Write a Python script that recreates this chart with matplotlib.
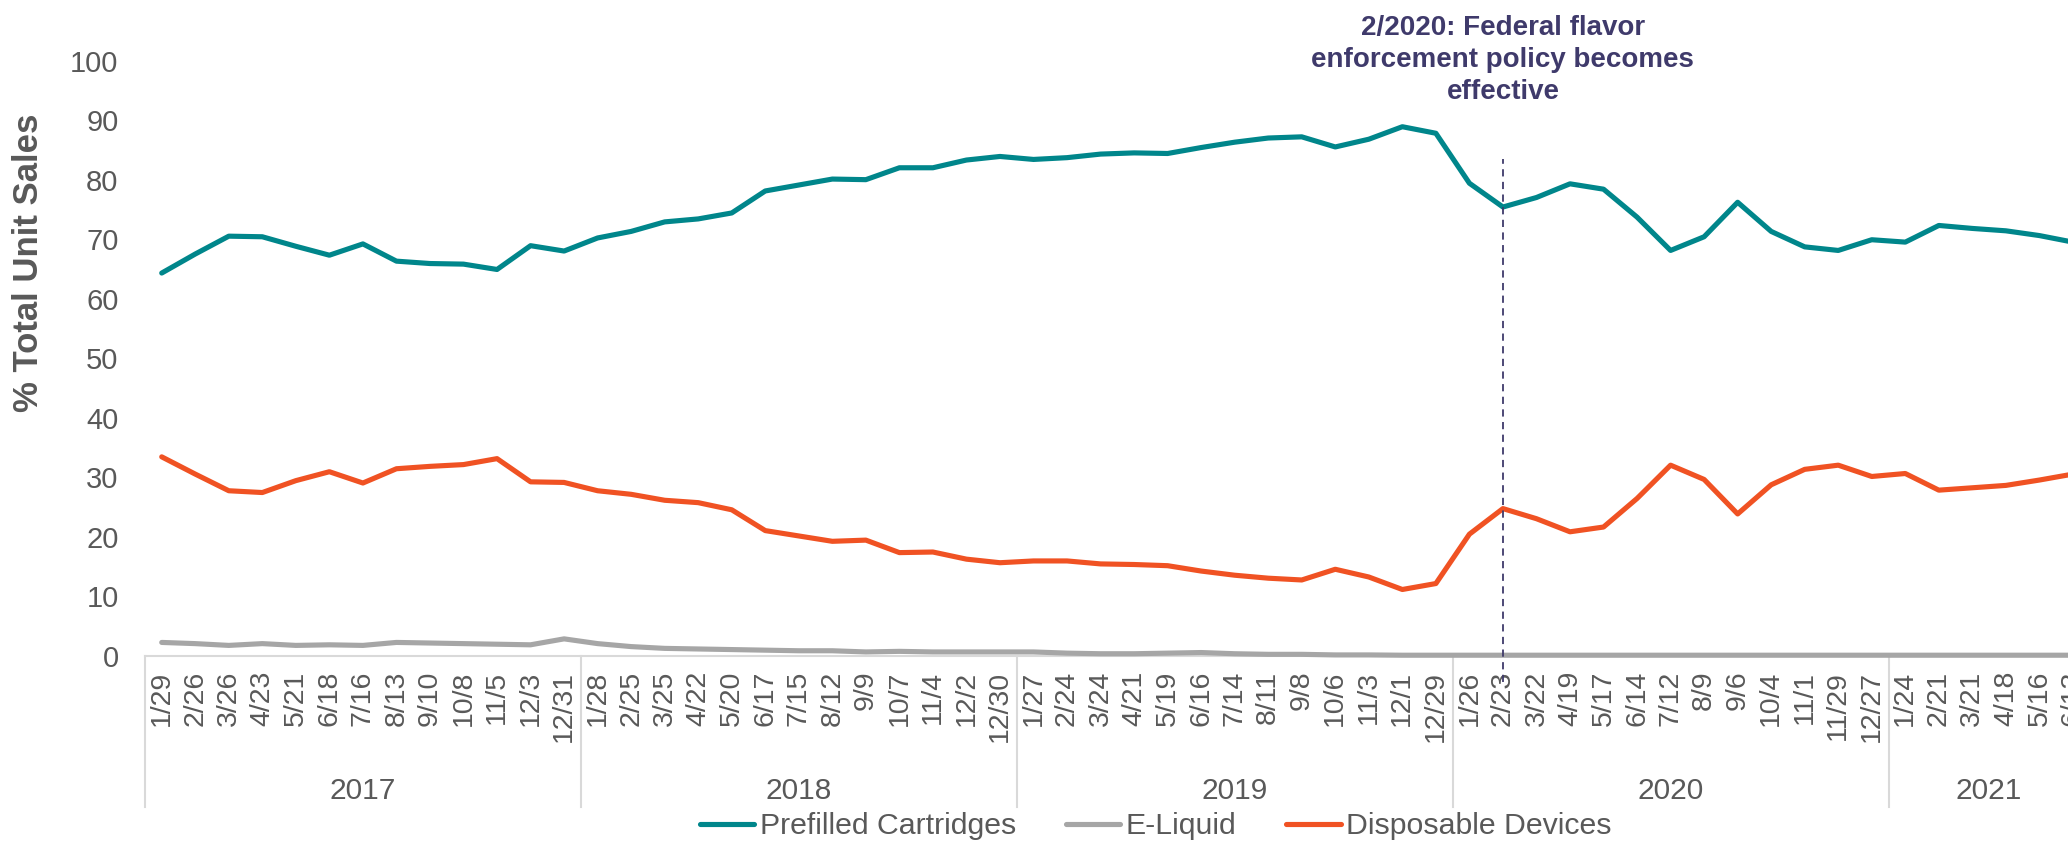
import matplotlib
matplotlib.use("Agg")
import matplotlib.pyplot as plt
import matplotlib.transforms as mtransforms

dates_2017 = ["1/29", "2/26", "3/26", "4/23", "5/21", "6/18", "7/16", "8/13", "9/10", "10/8", "11/5", "12/3", "12/31"]
dates_2018 = ["1/28", "2/25", "3/25", "4/22", "5/20", "6/17", "7/15", "8/12", "9/9", "10/7", "11/4", "12/2", "12/30"]
dates_2019 = ["1/27", "2/24", "3/24", "4/21", "5/19", "6/16", "7/14", "8/11", "9/8", "10/6", "11/3", "12/1", "12/29"]
dates_2020 = ["1/26", "2/23", "3/22", "4/19", "5/17", "6/14", "7/12", "8/9", "9/6", "10/4", "11/1", "11/29", "12/27"]
dates_2021 = ["1/24", "2/21", "3/21", "4/18", "5/16", "6/13"]
years = ["2017", "2018", "2019", "2020", "2021"]
year_groups = [dates_2017, dates_2018, dates_2019, dates_2020, dates_2021]
categories = dates_2017 + dates_2018 + dates_2019 + dates_2020 + dates_2021

prefilled = [64.3, 67.5, 70.5, 70.4, 68.8, 67.3, 69.2, 66.3, 65.9, 65.8, 64.9, 68.9, 68.0,
             70.2, 71.3, 72.9, 73.4, 74.4, 78.1, 79.1, 80.1, 80.0, 82.0, 82.0, 83.3, 83.9,
             83.4, 83.7, 84.3, 84.5, 84.4, 85.4, 86.3, 87.0, 87.2, 85.5, 86.8, 88.9, 87.8,
             79.4, 75.4, 77.0, 79.3, 78.4, 73.7, 68.1, 70.4, 76.2, 71.3, 68.7, 68.1, 69.9,
             69.5, 72.3, 71.8, 71.4, 70.6, 69.5]
eliquid = [2.2, 2.0, 1.7, 2.0, 1.7, 1.8, 1.7, 2.2, 2.1, 2.0, 1.9, 1.8, 2.8,
           2.0, 1.5, 1.2, 1.1, 1.0, 0.9, 0.8, 0.8, 0.6, 0.7, 0.6, 0.6, 0.6,
           0.6, 0.4, 0.3, 0.3, 0.4, 0.5, 0.3, 0.2, 0.2, 0.1, 0.1, 0.05, 0.05,
           0.05, 0.05, 0.05, 0.05, 0.05, 0.05, 0.05, 0.05, 0.05, 0.05, 0.05, 0.05, 0.05,
           0.05, 0.05, 0.05, 0.05, 0.05, 0.05]
disposable = [33.4, 30.5, 27.7, 27.4, 29.4, 30.9, 29.0, 31.4, 31.8, 32.1, 33.1, 29.2, 29.1,
              27.7, 27.1, 26.1, 25.7, 24.5, 21.0, 20.1, 19.2, 19.4, 17.3, 17.4, 16.2, 15.6,
              15.9, 15.9, 15.4, 15.3, 15.1, 14.2, 13.5, 13.0, 12.7, 14.5, 13.2, 11.1, 12.1,
              20.4, 24.7, 23.0, 20.8, 21.6, 26.4, 32.0, 29.6, 23.8, 28.7, 31.3, 32.0, 30.1,
              30.6, 27.8, 28.2, 28.6, 29.5, 30.5]
series_names = ["Prefilled Cartridges", "E-Liquid", "Disposable Devices"]
policy_date = "2/23"
policy_text = "2/2020: Federal flavor\nenforcement policy becomes\neffective"

TEAL = "#00868B"
GRAY = "#A6A6A6"
ORANGE = "#F05223"
TXT = "#595959"
PURPLE = "#3F3A6B"
SANS = ["Liberation Sans", "DejaVu Sans"]

fig = plt.figure(figsize=(20.68, 8.43), dpi=100)
ax = fig.add_axes([0.0701, 0.2224, 0.9404, 0.7056])
x = list(range(len(categories)))

lkw = dict(lw=3.7, solid_joinstyle="round", solid_capstyle="round", clip_on=False)
h1, = ax.plot(x, prefilled, color=TEAL, zorder=3, **lkw)
h2, = ax.plot(x, eliquid, color=GRAY, zorder=3, **lkw)
h3, = ax.plot(x, disposable, color=ORANGE, zorder=3, **lkw)

ax.set_xlim(-0.5, len(categories) - 0.5)
ax.set_ylim(0, 100)
for s in ["top", "right", "left"]:
    ax.spines[s].set_visible(False)
ax.spines["bottom"].set_color("#D9D9D9")
ax.spines["bottom"].set_linewidth(1.5)

ax.set_yticks(range(0, 101, 10))
ax.tick_params(axis="y", length=0, pad=19, labelsize=21, labelcolor=TXT)
for lab in ax.get_yticklabels():
    lab.set_family(SANS)
ax.set_xticks(x)
ax.set_xticklabels(categories, rotation=90, fontsize=20.5, color=TXT, family=SANS)
ax.tick_params(axis="x", length=0, pad=11)

trans = mtransforms.blended_transform_factory(ax.transData, fig.transFigure)
start = 0
for yr, grp in zip(years, year_groups):
    n = len(grp)
    ax.plot([start - 0.5, start - 0.5], [0.2224, 0.0427], transform=trans, color="#D9D9D9",
            lw=1.5, clip_on=False)
    ax.text(start + (n - 1) / 2, 0.0617, yr, transform=trans, ha="center", va="center",
            fontsize=21.5, color=TXT, family=SANS)
    start += n

xi = categories.index(policy_date)
ax.plot([xi, xi], [-4.5, 83.5], color=PURPLE, lw=1.3, ls=(0, (4, 3)), clip_on=False, zorder=5)
ax.text(xi, 0.929, policy_text, transform=trans, ha="center", va="center", multialignment="center",
        fontsize=20, fontweight="bold", color=PURPLE, family=SANS, linespacing=1.3)

fig.text(0.0137, 0.688, "% Total Unit Sales", rotation=90, ha="center", va="center",
         fontsize=25, fontweight="bold", color=TXT, family=SANS)

fig.legend([h1, h2, h3], series_names, loc="center", bbox_to_anchor=(0.5588, 0.02), ncol=3,
           frameon=False, handlelength=1.8, handletextpad=0.17, columnspacing=1.65,
           prop={"family": SANS, "size": 21.8}, labelcolor=TXT)

fig.savefig("out.png", dpi=100)
